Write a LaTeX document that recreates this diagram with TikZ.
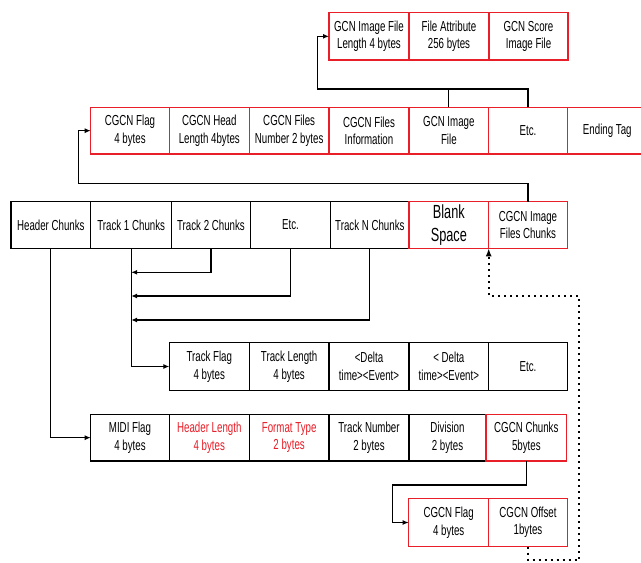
\documentclass[tikz,border=0pt]{standalone}
\usepackage{fontspec}
\newfontfamily\cellfont[FakeStretch=0.67]{Liberation Sans}
\usetikzlibrary{arrows.meta}
\definecolor{mred}{RGB}{232,30,40}
\begin{document}
\begin{tikzpicture}[x=1pt,y=1pt,
  cell/.style={draw=black, line width=1.2pt, minimum height=47pt, minimum width=80pt,
    inner sep=1pt, outer sep=0pt, align=center, anchor=north west,
    font=\cellfont\fontsize{14.5}{17.5}\selectfont},
  rcell/.style={cell, draw=mred, line width=1.3pt},
  plainline/.style={line width=1.1pt},
  conn/.style={line width=1.1pt, -{Latex[length=6pt,width=5pt]}},
  dotconn/.style={line width=2pt, dash pattern=on 2pt off 4pt, -{Latex[length=8pt,width=6pt]}}
]
\useasboundingbox[fill=white] (0,0) rectangle (641,-563);

% Row A
\node[rcell, minimum height=47.3pt, minimum width=80pt] (a1) at (329,-12.7) {GCN Image File\\Length 4 bytes};
\node[rcell, minimum height=47.3pt, minimum width=80pt] (a2) at (409,-12.7) {File Attribute\\256 bytes};
\node[rcell, minimum height=47.3pt, minimum width=79pt] (a3) at (489,-12.7) {GCN Score\\Image File};

% Row B
\node[rcell, minimum height=46.7pt, minimum width=78.6pt] (b1) at (90.7,-107.3) {CGCN Flag\\4 bytes};
\node[rcell, minimum height=46.7pt, minimum width=80pt] (b2) at (169.3,-107.3) {CGCN Head\\Length 4bytes};
\node[rcell, minimum height=46.7pt, minimum width=79.7pt] (b3) at (249.3,-107.3) {CGCN Files\\Number 2 bytes};
\node[rcell, minimum height=46.7pt, minimum width=80pt] (b4) at (329,-107.3) {CGCN Files\\Information};
\node[rcell, minimum height=46.7pt, minimum width=79.7pt] (b5) at (409,-107.3) {GCN Image\\File};
\node[rcell, minimum height=46.7pt, minimum width=78.6pt] (b6) at (488.7,-107.3) {Etc.};
\node[rcell, minimum height=46.7pt, minimum width=80pt] (b7) at (567.3,-107.3) {Ending Tag};

% Row C
\node[cell, minimum height=46.6pt, minimum width=79.7pt] (c1) at (11,-201.7) {Header Chunks};
\node[cell, minimum height=46.6pt, minimum width=81pt] (c2) at (90.7,-201.7) {Track 1 Chunks};
\node[cell, minimum height=46.6pt, minimum width=78.6pt] (c3) at (171.7,-201.7) {Track 2 Chunks};
\node[cell, minimum height=46.6pt, minimum width=80.4pt] (c4) at (250.3,-201.7) {Etc.};
\node[cell, minimum height=46.6pt, minimum width=78.3pt] (c5) at (330.7,-201.7) {Track N Chunks};
\node[rcell, minimum height=46.6pt, minimum width=79.7pt, font=\cellfont\fontsize{19}{23}\selectfont] (c6) at (409,-201.7) {Blank\\Space};
\node[rcell, minimum height=46.6pt, minimum width=78.6pt] (c7) at (488.7,-201.7) {CGCN Image\\Files Chunks};

% Row D
\node[cell, minimum height=48.4pt, minimum width=80pt] (d1) at (169.3,-342.3) {Track Flag\\4 bytes};
\node[cell, minimum height=48.4pt, minimum width=79.7pt] (d2) at (249.3,-342.3) {Track Length\\4 bytes};
\node[cell, minimum height=48.4pt, minimum width=80pt] (d3) at (329,-342.3) {<Delta\\time><Event>};
\node[cell, minimum height=48.4pt, minimum width=79.7pt] (d4) at (409,-342.3) {< Delta\\time><Event>};
\node[cell, minimum height=48.4pt, minimum width=78.6pt] (d5) at (488.7,-342.3) {Etc.};

% Row E
\node[cell, minimum height=46.7pt, minimum width=78.6pt] (e1) at (90.7,-414.3) {MIDI Flag\\4 bytes};
\node[cell, minimum height=46.7pt, minimum width=80pt, text=mred] (e2) at (169.3,-414.3) {Header Length\\4 bytes};
\node[cell, minimum height=46.7pt, minimum width=79.7pt, text=mred] (e3) at (249.3,-414.3) {Format Type\\2 bytes};
\node[cell, minimum height=46.7pt, minimum width=80pt] (e4) at (329,-414.3) {Track Number\\2 bytes};
\node[cell, minimum height=46.7pt, minimum width=77pt] (e5) at (409,-414.3) {Division\\2 bytes};
\node[rcell, minimum height=46.7pt, minimum width=80.7pt] (e6) at (486,-414.3) {CGCN Chunks\\5bytes};

% Row F
\node[rcell, minimum height=48.4pt, minimum width=80pt] (f1) at (408.7,-498.3) {CGCN Flag\\4 bytes};
\node[rcell, minimum height=48.4pt, minimum width=78.6pt] (f2) at (488.7,-498.3) {CGCN Offset\\1bytes};

% helper coordinates
\coordinate (j1) at (317.3,-89);
\coordinate (j2) at (78.3,-183.3);
\coordinate (j3) at (392.7,-485);
\coordinate (t2) at (131.2,-272.3);
\coordinate (te) at (131.2,-296);
\coordinate (tn) at (131.2,-320);
\coordinate (p1) at (528,-560);
\coordinate (p2) at (579.3,-560);
\coordinate (p3) at (579.3,-296);
\coordinate (p4) at (488.7,-296);

% connectors
\draw[conn] (b5.north) |- (j1) |- (a1.west);
\draw[plainline] (b6.north) |- (j1);
\draw[conn] (c7.north) |- (j2) |- (b1.west);
\draw[conn] (c2.south) |- (d1.west);
\draw[conn] (c3.south) |- (t2);
\draw[conn] (c4.south) |- (te);
\draw[conn] (c5.south) |- (tn);
\draw[conn] (c1.south) |- (e1.west);
\draw[conn] (e6.south) |- (j3) |- (f1.west);
\draw[dotconn] (f2.south) -- (p1) -- (p2) -- (p3) -- (p4) -- (c7.south west);
\end{tikzpicture}
\end{document}
